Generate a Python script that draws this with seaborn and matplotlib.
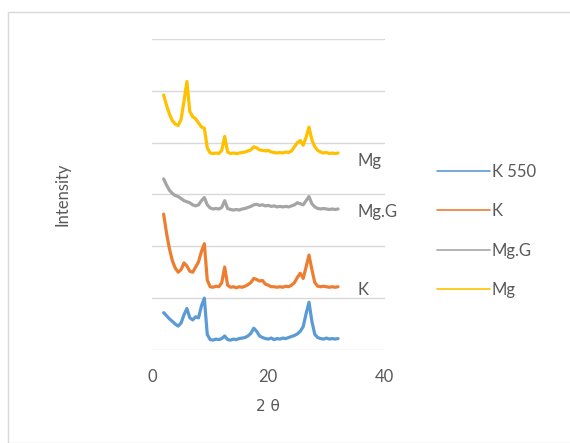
import matplotlib
matplotlib.use("Agg")
import matplotlib.pyplot as plt
import matplotlib.patches as mpatches
import seaborn as sns
import pandas as pd

# 2-theta sampling grid (degrees)
two_theta = [2.0, 2.5, 3.0, 3.5, 4.0, 4.5, 5.0, 5.5, 6.0, 6.5, 7.0, 7.5, 8.0, 8.5, 9.0, 9.5,
             10.0, 10.5, 11.0, 11.5, 12.0, 12.5, 13.0, 13.5, 14.0, 14.5, 15.0, 15.5, 16.0, 16.5,
             17.0, 17.5, 18.0, 18.5, 19.0, 19.5, 20.0, 20.5, 21.0, 21.5, 22.0, 22.5, 23.0, 23.5,
             24.0, 24.5, 25.0, 25.5, 26.0, 26.5, 27.0, 27.5, 28.0, 28.5, 29.0, 29.5, 30.0, 30.5,
             31.0, 31.5, 32.0]

# stacked (offset) intensities
k550 = [0.72, 0.66, 0.60, 0.55, 0.50, 0.46, 0.52, 0.68, 0.80, 0.62, 0.58, 0.64, 0.62, 0.85, 1.00, 0.30,
        0.20, 0.19, 0.21, 0.20, 0.22, 0.27, 0.20, 0.19, 0.21, 0.20, 0.22, 0.23, 0.24, 0.27,
        0.32, 0.42, 0.36, 0.27, 0.24, 0.22, 0.21, 0.23, 0.20, 0.22, 0.21, 0.23, 0.22, 0.24,
        0.26, 0.28, 0.31, 0.36, 0.45, 0.70, 0.92, 0.55, 0.30, 0.24, 0.22, 0.21, 0.23, 0.21,
        0.22, 0.21, 0.22]
k = [2.62, 2.25, 1.95, 1.72, 1.58, 1.50, 1.55, 1.68, 1.62, 1.52, 1.50, 1.60, 1.70, 1.90, 2.05, 1.35,
     1.22, 1.21, 1.23, 1.22, 1.30, 1.60, 1.25, 1.21, 1.22, 1.20, 1.22, 1.21, 1.23, 1.26,
     1.30, 1.38, 1.36, 1.33, 1.34, 1.27, 1.25, 1.22, 1.22, 1.21, 1.22, 1.21, 1.23, 1.22,
     1.25, 1.30, 1.40, 1.48, 1.38, 1.60, 1.83, 1.55, 1.30, 1.23, 1.22, 1.23, 1.22, 1.21,
     1.22, 1.21, 1.22]
mg_g = [3.30, 3.18, 3.08, 3.02, 2.98, 2.96, 2.92, 2.88, 2.86, 2.84, 2.80, 2.78, 2.80, 2.88, 2.94, 2.80,
        2.74, 2.72, 2.73, 2.72, 2.75, 2.88, 2.73, 2.71, 2.70, 2.71, 2.70, 2.72, 2.73, 2.75,
        2.77, 2.80, 2.81, 2.79, 2.80, 2.78, 2.79, 2.77, 2.78, 2.76, 2.77, 2.76, 2.77, 2.76,
        2.78, 2.80, 2.84, 2.82, 2.80, 2.88, 2.96, 2.82, 2.76, 2.73, 2.72, 2.73, 2.72, 2.71,
        2.72, 2.71, 2.72]
mg = [4.92, 4.72, 4.55, 4.42, 4.36, 4.33, 4.45, 4.80, 5.18, 4.60, 4.50, 4.46, 4.38, 4.30, 4.28, 3.90,
      3.80, 3.79, 3.80, 3.79, 3.85, 4.12, 3.82, 3.79, 3.80, 3.79, 3.80, 3.81, 3.82, 3.84,
      3.86, 3.92, 3.90, 3.86, 3.85, 3.84, 3.85, 3.82, 3.81, 3.80, 3.81, 3.80, 3.82, 3.81,
      3.84, 3.92, 4.00, 4.04, 3.95, 4.10, 4.30, 4.05, 3.92, 3.85, 3.82, 3.80, 3.81, 3.79,
      3.80, 3.79, 3.80]

series_names = ["K 550", "K", "Mg.G", "Mg"]
colors = ["#5B9BD5", "#ED7D31", "#A5A5A5", "#FFC000"]
label_pos = [("Mg", 3.65), ("Mg.G", 2.67), ("K", 1.15)]

frames = []
for name, vals in zip(series_names, [k550, k, mg_g, mg]):
    frames.append(pd.DataFrame({"2θ": two_theta, "Intensity": vals, "sample": name}))
df = pd.concat(frames, ignore_index=True)

sns.set_style("white")
plt.rcParams["font.family"] = ["Lato", "DejaVu Sans"]
txt = "#595959"
fs = 12

fig = plt.figure(figsize=(5.7, 4.43), dpi=100)
ax = fig.add_axes([0.2667, 0.21, 0.408, 0.702])

sns.lineplot(data=df, x="2θ", y="Intensity", hue="sample", hue_order=series_names,
             palette=colors, linewidth=2.3, ax=ax, legend=False)

ax.set_xlim(0, 40)
ax.set_ylim(0, 6)
ax.set_xticks([0, 20, 40])
ax.set_yticks([0, 1, 2, 3, 4, 5, 6])
ax.set_yticklabels([])
ax.tick_params(axis="both", length=0, labelsize=fs, colors=txt, pad=14)
ax.yaxis.grid(True, color="#D9D9D9", linewidth=1)
ax.set_axisbelow(True)
for s in ax.spines.values():
    s.set_visible(False)

ax.set_xlabel("2 θ", fontsize=11, color=txt, labelpad=10, family=["DejaVu Sans"])
ax.set_ylabel("Intensity", fontsize=fs, color=txt, labelpad=45)

for lab, yv in label_pos:
    ax.text(35.3, yv, lab, ha="left", va="center", fontsize=fs, color=txt, clip_on=False)

handles = [plt.Line2D([], [], color=c, linewidth=1.2) for c in colors]
fig.legend(handles, series_names, loc="upper left", bbox_to_anchor=(0.766, 0.63),
           frameon=False, fontsize=fs, labelcolor=txt, handlelength=3.2,
           handletextpad=0.1, labelspacing=1.4, borderpad=0, borderaxespad=0)

fig.patches.append(mpatches.Rectangle((8 / 570, 0), 1, 1 - 12 / 443, transform=fig.transFigure,
                                      fill=False, edgecolor="#D9D9D9", linewidth=1))

fig.savefig("out.png", dpi=100)
